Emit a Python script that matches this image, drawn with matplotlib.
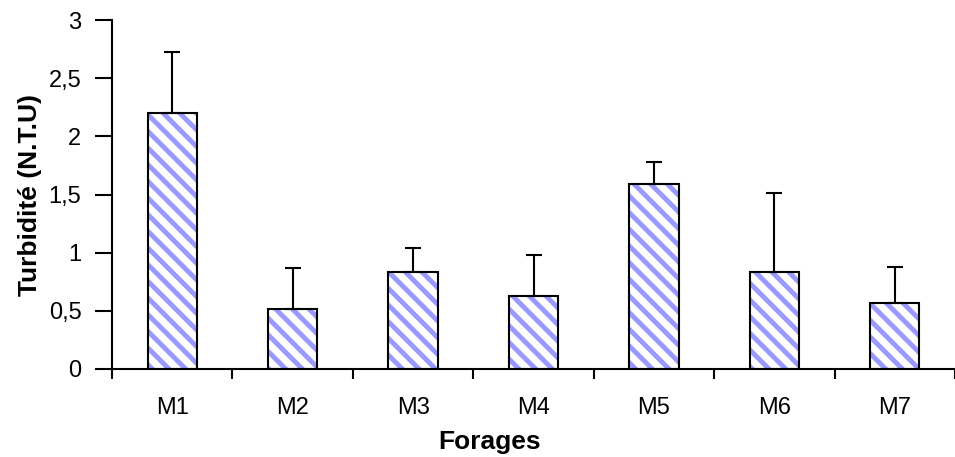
import numpy as np
import matplotlib
matplotlib.use("Agg")
import matplotlib.pyplot as plt

# Turbidité par forage (moyenne + écart-type)
forages = ["M1", "M2", "M3", "M4", "M5", "M6", "M7"]
turbidite = [2.2, 0.52, 0.83, 0.63, 1.59, 0.83, 0.57]
ecart = [0.53, 0.35, 0.21, 0.35, 0.19, 0.68, 0.31]

plt.rcParams["font.family"] = ["Liberation Sans", "DejaVu Sans"]
plt.rcParams["hatch.linewidth"] = 3.5

fig = plt.figure(figsize=(9.55, 4.57), dpi=100)
ax = fig.add_axes([0.1173, 0.1926, 0.8827, 0.7634])

x = np.arange(len(forages))
# hatch in light blue, then black outline on top
ax.bar(x, turbidite, width=0.41, color="white", edgecolor="#9999ff",
       linewidth=0, hatch="\\\\", zorder=2)
ax.bar(x, turbidite, width=0.41, fill=False, edgecolor="black",
       linewidth=1.5, zorder=3)
ax.errorbar(x, turbidite, yerr=[np.zeros(len(ecart)), ecart], fmt="none",
            ecolor="black", elinewidth=1.5, capsize=6, capthick=1.5, zorder=3)

ax.set_xlim(-0.5, len(forages) - 0.5)
ax.set_ylim(0, 3)
ax.set_yticks(np.arange(0, 3.01, 0.5))
ax.set_yticklabels(["0", "0,5", "1", "1,5", "2", "2,5", "3"])
ax.set_xticks(x)
ax.set_xticklabels(forages)
ax.set_xticks(np.arange(-0.5, len(forages), 1), minor=True)
ax.tick_params(axis="x", which="major", length=0, pad=20, labelsize=17)
ax.tick_params(axis="x", which="minor", length=7, width=1.5)
ax.tick_params(axis="y", length=12, width=1.5, labelsize=17, pad=10)

for s in ["top", "right"]:
    ax.spines[s].set_visible(False)
ax.spines["left"].set_linewidth(1.5)
ax.spines["bottom"].set_linewidth(1.5)

ax.set_xlabel("Forages", fontsize=19, fontweight="bold")
ax.xaxis.set_label_coords(0.448, -0.175)
ax.set_ylabel("Turbidité (N.T.U)", fontsize=19, fontweight="bold", labelpad=5)

fig.savefig("out.png", dpi=100)
